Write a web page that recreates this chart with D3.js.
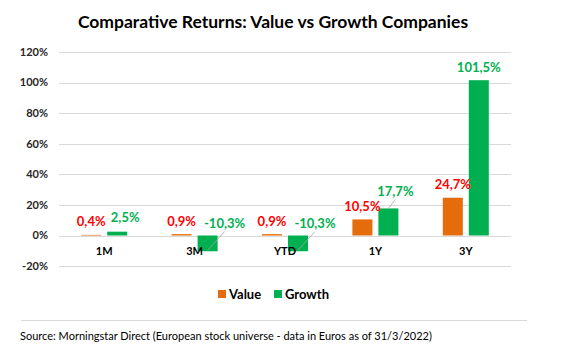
<!DOCTYPE html>
<html>
<head>
<meta charset="utf-8">
<script src="https://cdn.jsdelivr.net/npm/d3@7"></script>
<style>
  body { margin: 0; background: #fff; }
  text { font-family: Lato, "Open Sans", sans-serif; }
</style>
</head>
<body>
<div id="chart"></div>
<script>
const categories = ["1M", "3M", "YTD", "1Y", "3Y"];
const seriesNames = ["Value", "Growth"];
const valueReturns = [0.4, 0.9, 0.9, 10.5, 24.7];
const growthReturns = [2.5, -10.3, -10.3, 17.7, 101.5];
const yTicks = [-20, 0, 20, 40, 60, 80, 100, 120];

const W = 565, H = 351;
const colors = { Value: "#e46c0a", Growth: "#00b050" };
const labelColors = { Value: "#ff0000", Growth: "#00b050" };

const locale = d3.formatLocale({ decimal: ",", thousands: ".", grouping: [3], currency: ["", "€"], minus: "-" });
const fmt = locale.format(".1f");

const svg = d3.select("#chart").append("svg")
    .attr("width", W)
    .attr("height", H);

svg.append("rect").attr("width", W).attr("height", H).attr("fill", "#fff");

const plot = { left: 59, right: 511 };

const x0 = d3.scaleBand()
    .domain(categories)
    .range([plot.left, plot.right])
    .paddingInner(0.491)
    .paddingOuter(0.2455);

const x1 = d3.scaleBand()
    .domain(seriesNames)
    .range([0, x0.bandwidth()])
    .paddingInner(0.23);

const y = d3.scaleLinear().domain([-20, 120]).range([266.1, 51.9]);

// title
svg.append("text")
    .attr("x", 273)
    .attr("y", 28)
    .attr("text-anchor", "middle")
    .style("font-size", "17.5px")
    .style("font-weight", "bold")
    .attr("fill", "#000")
    .text("Comparative Returns: Value vs Growth Companies");

// gridlines
svg.append("g")
    .selectAll("line")
    .data(yTicks)
    .enter()
    .append("line")
    .attr("x1", plot.left)
    .attr("x2", plot.right)
    .attr("y1", (d) => Math.round(y(d)) + 0.5)
    .attr("y2", (d) => Math.round(y(d)) + 0.5)
    .attr("stroke", "#d9d9d9")
    .attr("stroke-width", 1);

// y tick labels
svg.append("g")
    .selectAll("text")
    .data(yTicks)
    .enter()
    .append("text")
    .attr("x", 48)
    .attr("y", (d) => y(d))
    .attr("dy", "0.35em")
    .attr("text-anchor", "end")
    .style("font-size", "11px")
    .style("font-weight", "bold")
    .attr("fill", "#262626")
    .text((d) => d + "%");

const rows = categories.map((c, i) => ({
    cat: c,
    vals: [
        { key: "Value", v: valueReturns[i] },
        { key: "Growth", v: growthReturns[i] },
    ],
}));

const groups = svg.append("g")
    .selectAll("g")
    .data(rows)
    .enter()
    .append("g")
    .attr("transform", (d) => `translate(${x0(d.cat)},0)`);

groups.selectAll("rect")
    .data((d) => d.vals)
    .enter()
    .append("rect")
    .attr("x", (d) => x1(d.key))
    .attr("width", x1.bandwidth())
    .attr("y", (d) => y(Math.max(0, d.v)))
    .attr("height", (d) => Math.abs(y(d.v) - y(0)))
    .attr("fill", (d) => colors[d.key]);

// category labels
svg.append("g")
    .selectAll("text")
    .data(categories)
    .enter()
    .append("text")
    .attr("x", (d) => x0(d) + x0.bandwidth() / 2)
    .attr("y", 255)
    .attr("text-anchor", "middle")
    .style("font-size", "11px")
    .style("font-weight", "bold")
    .attr("fill", "#000")
    .text((d) => d);

// data labels (excel-style, some nudged with leader lines)
function labelPos(d) {
    const cx = x1(d.key) + x1.bandwidth() / 2;
    if (d.v < 0) {
        return { x: cx + 17, y: y(0) - 12, leader: true, lx: cx, ly: y(d.v) - 1 };
    }
    const top = y(d.v);
    if (d.key === "Growth" && d.v > 10 && d.v < 50) {
        return { x: cx + 7, y: top - 17, leader: true, lx: cx, ly: top };
    }
    if (d.key === "Growth" && d.v < 10) {
        return { x: cx + 8, y: top - 14 };
    }
    return { x: cx, y: top - 13 };
}

groups.each(function (row) {
    const g = d3.select(this);
    row.vals.forEach((d) => {
        const p = labelPos(d);
        if (p.leader) {
            g.append("line")
                .attr("x1", p.lx)
                .attr("y1", p.ly)
                .attr("x2", p.x)
                .attr("y2", p.y + 8)
                .attr("stroke", "#a6a6a6")
                .attr("stroke-width", 0.8);
        }
        g.append("text")
            .attr("x", p.x)
            .attr("y", p.y)
            .attr("dy", "0.35em")
            .attr("text-anchor", "middle")
            .style("font-size", "13px")
            .style("font-weight", "bold")
            .attr("fill", labelColors[d.key])
            .text(fmt(d.v) + "%");
    });
});

// legend
const legend = svg.append("g").attr("transform", "translate(218,294)");
const legendItems = legend.selectAll("g")
    .data(seriesNames)
    .enter()
    .append("g")
    .attr("transform", (d, i) => `translate(${i * 56},0)`);

legendItems.append("rect")
    .attr("x", 0)
    .attr("y", -4)
    .attr("width", 8)
    .attr("height", 8)
    .attr("fill", (d) => colors[d]);

legendItems.append("text")
    .attr("x", 11)
    .attr("y", 0)
    .attr("dy", "0.35em")
    .style("font-size", "13px")
    .style("font-weight", "bold")
    .attr("fill", "#000")
    .text((d) => d);

// separator + source
svg.append("line")
    .attr("x1", 21)
    .attr("x2", 527)
    .attr("y1", 320.5)
    .attr("y2", 320.5)
    .attr("stroke", "#d9d9d9");

svg.append("text")
    .attr("x", 20)
    .attr("y", 340)
    .style("font-size", "11px")
    .attr("fill", "#000")
    .text("Source: Morningstar Direct (European stock universe - data in Euros as of 31/3/2022)");
</script>
</body>
</html>
